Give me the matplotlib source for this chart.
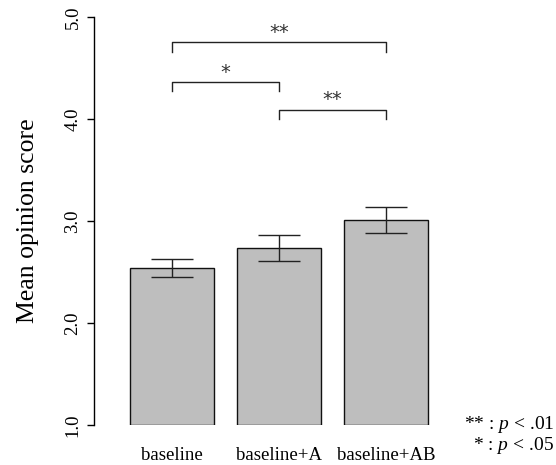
# Mean opinion score bar chart with significance brackets

import matplotlib
matplotlib.use("Agg")
import matplotlib.pyplot as plt

plt.rcParams['font.family'] = ['Liberation Serif', 'DejaVu Serif']
plt.rcParams['mathtext.fontset'] = 'custom'
plt.rcParams['mathtext.rm'] = 'Liberation Serif'
plt.rcParams['mathtext.it'] = 'Liberation Serif:italic'

conditions = ["baseline", "baseline+A", "baseline+AB"]
means = [2.54, 2.735, 3.01]
err_low = [2.45, 2.61, 2.88]
err_high = [2.63, 2.86, 3.14]

# significance comparisons: (left bar, right bar, bracket height, label)
comp_left = [0, 0, 1]
comp_right = [2, 1, 2]
comp_height = [4.75, 4.36, 4.09]
comp_label = ["**", "*", "**"]

yticks = [1.0, 2.0, 3.0, 4.0, 5.0]

fig = plt.figure(figsize=(5.56, 4.65), dpi=100)
ax = fig.add_axes([94 / 556, 40 / 465, 346 / 556, 408 / 465])

x = list(range(len(conditions)))
ax.bar(x, [m - 1.0 for m in means], bottom=1.0, width=0.79,
       color="#bebebe", edgecolor="#111111", linewidth=1.0)

yerr = [[m - lo for m, lo in zip(means, err_low)],
        [hi - m for m, hi in zip(means, err_high)]]
ax.errorbar(x, means, yerr=yerr, fmt="none", ecolor="#222222",
            elinewidth=1.0, capsize=14.8, capthick=1.0)

tick = 0.09
for l, r, h, lab in zip(comp_left, comp_right, comp_height, comp_label):
    ax.plot([l, l, r, r], [h - tick, h, h, h - tick], color="#222222",
            linewidth=1.0, clip_on=False)
    ax.text((l + r) / 2, h + 0.005, lab, ha="center", va="bottom",
            fontsize=14, color="#333333", family="DejaVu Sans")

ax.set_xlim(-0.729, 2.505)
ax.set_ylim(1.0, 5.0)
ax.set_yticks(yticks)
ax.set_yticklabels(["{:.1f}".format(t) for t in yticks], rotation=90,
                   va="center", fontsize=13.5)
ax.tick_params(axis="y", length=5, width=1.0, pad=4)
ax.set_xticks(x)
ax.set_xticklabels(conditions, fontsize=13.5)
ax.tick_params(axis="x", length=0, pad=16)

for s in ["top", "right", "bottom"]:
    ax.spines[s].set_visible(False)
ax.spines["left"].set_linewidth(1.0)

ax.set_ylabel("Mean opinion score", fontsize=18.5, labelpad=18)

fig.text(554 / 556, 1 - 424 / 465, "** : $p$ < .01", ha="right", va="center", fontsize=14)
fig.text(554 / 556, 1 - 445 / 465, "* : $p$ < .05", ha="right", va="center", fontsize=14)

plt.savefig("out.png", dpi=100)
